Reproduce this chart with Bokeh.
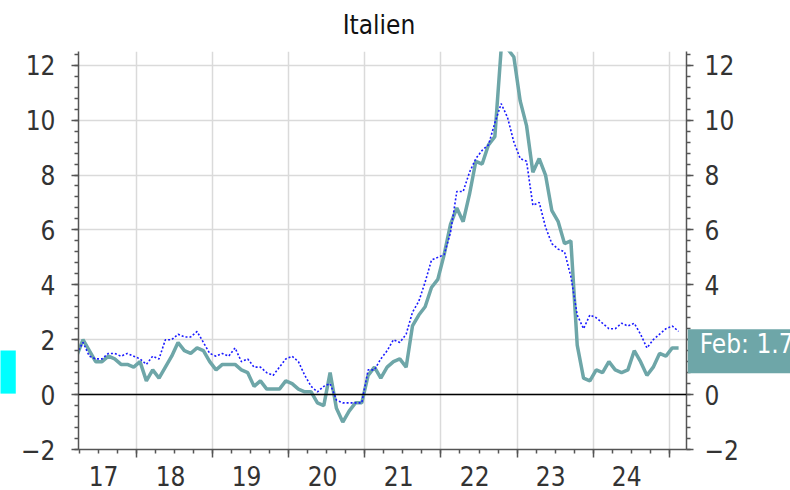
import pandas as pd
from bokeh.plotting import figure
from bokeh.models import (Range1d, LinearAxis, FixedTicker, SingleIntervalTicker,
                          Span, Label, GlobalInlineStyleSheet)
from bokeh.embed import file_html
from bokeh.resources import INLINE

# ---------------- data ----------------
title_text = "Italien"
first_month = "2017-03"
italy = [1.4, 2.0, 1.6, 1.2, 1.2, 1.4, 1.3, 1.1, 1.1, 1.0,
         1.2, 0.5, 0.9, 0.6, 1.0, 1.4, 1.9, 1.6, 1.5, 1.7, 1.6, 1.2,
         0.9, 1.1, 1.1, 1.1, 0.9, 0.8, 0.3, 0.5, 0.2, 0.2, 0.2, 0.5,
         0.4, 0.2, 0.1, 0.1, -0.3, -0.4, 0.8, -0.5, -1.0, -0.6, -0.3, -0.3,
         0.7, 1.0, 0.6, 1.0, 1.2, 1.3, 1.0, 2.5, 2.9, 3.2, 3.9, 4.2,
         5.1, 6.2, 6.8, 6.3, 7.3, 8.5, 8.4, 9.1, 9.4, 12.6, 12.6, 12.3,
         10.7, 9.8, 8.1, 8.6, 8.0, 6.7, 6.3, 5.5, 5.6, 1.8, 0.6, 0.5,
         0.9, 0.8, 1.2, 0.9, 0.8, 0.9, 1.6, 1.2, 0.7, 1.0, 1.5, 1.4,
         1.7, 1.7]
euro = [1.5, 1.9, 1.4, 1.3, 1.3, 1.5, 1.5, 1.4, 1.5, 1.4,
        1.3, 1.1, 1.4, 1.3, 2.0, 2.0, 2.2, 2.1, 2.1, 2.3, 1.9, 1.5,
        1.4, 1.5, 1.4, 1.7, 1.2, 1.3, 1.0, 1.0, 0.8, 0.7, 1.0, 1.3,
        1.4, 1.2, 0.7, 0.3, 0.1, 0.3, 0.4, -0.2, -0.3, -0.3, -0.3, -0.3,
        0.9, 0.9, 1.3, 1.6, 2.0, 1.9, 2.2, 3.0, 3.4, 4.1, 4.9, 5.0,
        5.1, 5.9, 7.4, 7.4, 8.1, 8.6, 8.9, 9.1, 9.9, 10.6, 10.1, 9.2,
        8.6, 8.5, 6.9, 7.0, 6.1, 5.5, 5.3, 5.2, 4.3, 2.9, 2.4, 2.9,
        2.8, 2.6, 2.4, 2.4, 2.6, 2.5, 2.6, 2.2, 1.7, 2.0, 2.2, 2.4,
        2.5, 2.3]
label_years = [2017, 2018, 2019, 2020, 2021, 2022, 2023, 2024]
year_labels = ["17", "18", "19", "20", "21", "22", "23", "24"]
grid_years = [2018, 2019, 2020, 2021, 2022, 2023, 2024, 2025]
last_text = "Feb: 1.7"

# ---------------- styles ----------------
FONT = "DejaVu Sans Condensed"
FS = "26px"
TEAL = "#6ea6a8"
BLUE = "#1a1aff"
AXC = "#555555"
TXT = "#333333"

periods = pd.period_range(first_month, periods=len(italy), freq="M")
xs = [pr.year + (pr.month - 0.5) / 12.0 for pr in periods]

x0, x1 = 2017.2325, 2025.229
p = figure(frame_width=608, frame_height=398, x_range=Range1d(x0, x1), y_range=Range1d(-2, 12.5),
           output_backend="svg", toolbar_location=None, title=None,
           min_border_left=78, min_border_right=0, min_border_top=51, min_border_bottom=41)
p.stylesheets = [GlobalInlineStyleSheet(css="html, body { overflow: hidden !important; }")]
p.outline_line_color = None

p.xgrid.ticker = FixedTicker(ticks=grid_years)
p.ygrid.ticker = SingleIntervalTicker(interval=2, num_minor_ticks=5)
for g in (p.xgrid, p.ygrid):
    g.grid_line_color = "#dadada"
    g.grid_line_width = 1.5

quarters = [2017.25 + 0.25 * i for i in range(33)]
xax = p.xaxis[0]
xax.ticker = FixedTicker(ticks=grid_years, minor_ticks=quarters)
xax.major_label_overrides = {y: "" for y in grid_years}
xax.major_label_text_font_size = "1px"
xax.major_label_standoff = 0
xax.major_tick_out = 8
xax.major_tick_in = 0
xax.minor_tick_out = 4
xax.minor_tick_in = 0

# year labels centred in each year
lab_x = [max(y + 0.443, x0 + 0.33) for y in label_years]
xlab = LinearAxis(ticker=FixedTicker(ticks=lab_x, minor_ticks=[]),
                  major_label_overrides={x: t for x, t in zip(lab_x, year_labels)},
                  axis_line_color=None, major_tick_line_color=None, minor_tick_line_color=None,
                  major_tick_out=0, major_tick_in=0, minor_tick_out=0, minor_tick_in=0,
                  major_label_standoff=8, major_label_text_font=FONT,
                  major_label_text_font_size=FS, major_label_text_color=TXT)
p.add_layout(xlab, "below")

yl = p.yaxis[0]
yr = LinearAxis()
p.add_layout(yr, "right")
for ax, so in ((yl, 16), (yr, 11)):
    ax.ticker = SingleIntervalTicker(interval=2, num_minor_ticks=5)
    ax.major_label_text_font = FONT
    ax.major_label_text_font_size = FS
    ax.major_label_text_color = TXT
    ax.major_label_standoff = so
    ax.major_tick_out = 7
    ax.major_tick_in = 0
    ax.minor_tick_out = 4
    ax.minor_tick_in = 0
for ax in (xax, yl, yr):
    ax.axis_line_color = AXC
    ax.axis_line_width = 1.5
    ax.major_tick_line_color = AXC
    ax.major_tick_line_width = 1.5
    ax.minor_tick_line_color = AXC
    ax.minor_tick_line_width = 1.5

p.add_layout(Span(location=0, dimension="width", line_color="black", line_width=1.5))

p.line(xs, italy, line_color=TEAL, line_width=3.5)
p.line(xs, euro, line_color=BLUE, line_width=1.6, line_dash="2 2")

# title (side-panel label in canvas units)
p.add_layout(Label(x=378.5, y=24, x_units="canvas", y_units="canvas", text=title_text,
                   text_align="center", text_baseline="alphabetic",
                   text_font=FONT, text_font_size=FS, text_color="#111111"), "above")

# value box at the right edge (canvas units, placed in a side panel so it is not clipped)
p.add_layout(Label(x=687.3, y=350.7, x_units="canvas", y_units="canvas", text=last_text,
                   text_align="left", text_baseline="alphabetic",
                   background_fill_color=TEAL,
                   padding=dict(left=12, right=40, top=0, bottom=14),
                   text_font=FONT, text_font_size=FS, text_color="white"), "right")
# cut-off cyan box at the left edge
p.add_layout(Label(x=0, y=350, x_units="canvas", y_units="canvas", text=" ",
                   text_align="left", text_baseline="top", text_font_size="1px",
                   background_fill_color="#00ffff",
                   padding=dict(left=0, right=15, top=0, bottom=42)), "right")

open("out.html", "w").write(file_html(p, INLINE))
